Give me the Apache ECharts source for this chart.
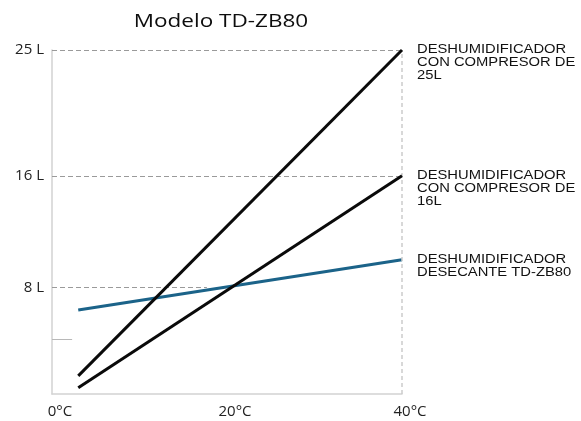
<!DOCTYPE html>
<html>
<head>
<meta charset="utf-8">
<script src="https://cdn.jsdelivr.net/npm/echarts@6/dist/echarts.min.js"></script>
<style>
html,body{margin:0;padding:0;background:#fff;}
#c{width:581px;height:421px;}
</style>
</head>
<body>
<div id="c"></div>
<script>
// ---- data ----
const title = 'Modelo TD-ZB80';
const xTicks = [0, 20, 40];           // °C
const yTickValues = [8, 16, 25];      // L
const seriesNames = [
  'DESHUMIDIFICADOR\nCON COMPRESOR DE\n25L',
  'DESHUMIDIFICADOR\nCON COMPRESOR DE\n16L',
  'DESHUMIDIFICADOR\nDESECANTE TD-ZB80'
];
const temps = [3, 40];
const comp25 = [1.7, 25];
const comp16 = [0.85, 16];
const desecante = [6.4, 10.0];
// reference guide lines: [value, start temp, end temp]
const guide25 = [25, 0, 40];
const guide16 = [16, 0, 40];
const guide8 = [8, 0, 17.7];
const shortTick = [4.3, 0, 2.3];

const chart = echarts.init(document.getElementById('c'));
const pair = (xs, ys) => xs.map((x, i) => [x, ys[i]]);
const dashed = { type: [5, 3], color: '#9a9a9a', width: 1 };
const hLine = (g, style) => [{ coord: [g[1], g[0]], lineStyle: style }, { coord: [g[2], g[0]] }];

chart.setOption({
  animation: false,
  grid: { left: 52, right: 179, top: 50, bottom: 27 },
  xAxis: {
    type: 'value', min: xTicks[0], max: xTicks[2], interval: xTicks[1] - xTicks[0],
    axisLine: { show: true, lineStyle: { color: '#d2d2d2', width: 1.5 } },
    axisTick: { show: false },
    splitLine: { show: false },
    axisLabel: {
      formatter: v => v + '°C', margin: 10, padding: [0, 0, 0, 16],
      fontFamily: 'Open Sans', fontSize: 15, color: '#222'
    }
  },
  yAxis: {
    type: 'value', min: 0.4, max: 25,
    axisLine: { show: true, lineStyle: { color: '#d2d2d2', width: 1.5 } },
    axisTick: { show: false },
    splitLine: { show: false },
    axisLabel: {
      customValues: yTickValues,
      formatter: v => v + ' L', margin: 8,
      fontFamily: 'Open Sans', fontSize: 15, color: '#222'
    }
  },
  series: [
    {
      type: 'line', data: pair(temps, comp25), symbol: 'none',
      lineStyle: { color: '#0a0a0a', width: 3 }, z: 5,
      markLine: {
        silent: true, symbol: 'none', label: { show: false },
        data: [
          hLine(guide25, dashed),
          hLine(guide16, dashed),
          hLine(guide8, dashed),
          hLine(shortTick, { type: 'solid', color: '#b8b8b8', width: 1 }),
          [{ coord: [40, 0.4], lineStyle: { type: [4, 3], color: '#cccccc', width: 1.5 } }, { coord: [40, 25] }]
        ]
      }
    },
    {
      type: 'line', data: pair(temps, comp16), symbol: 'none',
      lineStyle: { color: '#0a0a0a', width: 3 }, z: 5
    },
    {
      type: 'line', data: pair(temps, desecante), symbol: 'none',
      lineStyle: { color: '#1b6389', width: 3 }, z: 4
    }
  ]
});

const ends = [comp25, comp16, desecante].map(s => chart.convertToPixel({ seriesIndex: 0 }, [temps[1], s[1]]));
const plotMid = chart.convertToPixel({ seriesIndex: 0 }, [20, 25]);
const graphics = [{
  type: 'text', x: plotMid[0] - 6, y: 22, scaleX: 1.25, silent: true,
  style: { text: title, font: '18px "Open Sans"', fill: '#0d0d0d', align: 'center', verticalAlign: 'middle' }
}];
ends.forEach((p, i) => {
  graphics.push({
    type: 'text', x: p[0] + 15, y: p[1] - 7, scaleX: 1.23, silent: true,
    style: { text: seriesNames[i], font: '12px "Liberation Sans"', fill: '#111',
             align: 'left', verticalAlign: 'top', lineHeight: 13 }
  });
});
chart.setOption({ graphic: graphics });
</script>
</body>
</html>
